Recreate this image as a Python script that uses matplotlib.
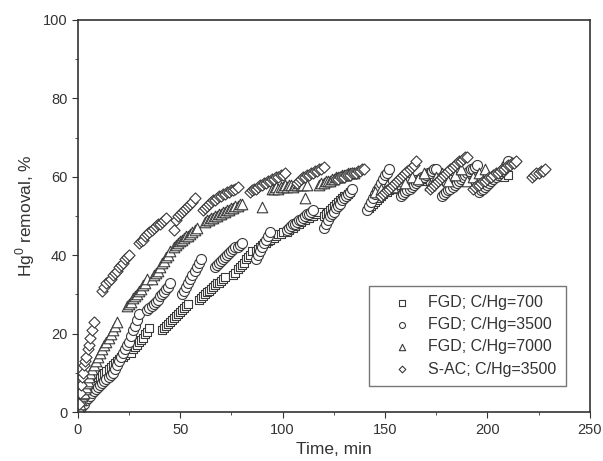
import matplotlib
matplotlib.use('Agg')
import matplotlib.pyplot as plt
from matplotlib.ticker import MultipleLocator

plt.rcParams['font.family'] = ['Liberation Sans', 'DejaVu Sans']

# FGD; C/Hg=700 (cuadrados)
t_700 = [0.5, 1, 1.5, 2, 3, 4, 5, 6, 7, 8, 9, 10,
         11, 12, 13, 14, 15, 16, 17, 18, 19, 20, 21, 22, 23,
         26, 27, 28, 29, 30, 31, 32, 33, 34, 35,
         41, 42, 43, 44, 45, 46, 47, 48, 49, 50, 51, 52, 53, 54,
         59, 60, 61, 62, 63, 64, 65, 66, 67, 68, 69, 70, 71, 72,
         76, 77, 78, 79, 80, 81, 82, 83, 84, 85,
         87, 88, 89, 90, 91, 92, 93, 94, 95, 96, 97, 98, 99, 100,
         102, 103, 104, 105, 106, 107, 108, 109, 110, 111, 112, 113, 114, 115, 116, 117, 118,
         120, 121, 122, 123, 124, 125, 126, 127, 128, 129, 130, 131, 132, 133,
         142, 143, 144, 145, 146, 147, 148, 149, 150, 151, 152, 153, 154, 155, 156,
         158, 160, 162, 164, 166, 168, 170, 172, 174, 176, 178, 180, 182, 184, 186, 188,
         190, 192, 194, 196, 198, 200, 202, 204, 206, 208, 210]
v_700 = [0.5, 1, 2, 2.5, 3, 4, 5, 5.5, 6.5, 7, 8, 9,
         9, 9.5, 10, 10.5, 11, 11.5, 12, 12.5, 13, 13.5, 14, 14, 14.5,
         15, 16, 16.5, 17, 18, 18.5, 19, 20, 20.5, 21.5,
         21, 21.5, 22, 22.5, 23, 23.5, 24, 24.5, 25, 25.5, 26, 26.5, 27, 27.5,
         28.5, 29, 29.5, 30, 30.5, 31, 31.5, 32, 32.5, 33, 33, 33.5, 34, 34.5,
         35, 35.5, 36.5, 37, 37.5, 38, 39, 39.5, 40, 41,
         41, 41.5, 42, 42.5, 43, 43, 43.5, 44, 44.5, 44.5, 45, 45.5, 45.5, 46,
         46, 46.5, 47, 47, 47.5, 48, 48, 48.5, 49, 49, 49.5, 49.5, 50, 50, 50.5, 50.5, 51,
         50, 50.5, 51, 51.5, 52, 52.5, 53, 53.5, 54, 54.5, 55, 55, 55.5, 56,
         52, 52.5, 53, 53.5, 54, 54.5, 55, 55.5, 56, 56, 56.5, 57, 57, 57.5, 58,
         58, 58.5, 59, 59, 59.5, 59, 59.5, 59, 59.5, 60, 59.5, 59, 59.5, 59, 59.5, 59,
         59.5, 59, 58.5, 59, 59.5, 60, 59.5, 60, 60.5, 60, 60.5]

# FGD; C/Hg=3500 (círculos)
t_3500 = [1, 2, 3, 4, 5, 6, 7, 8, 9, 10, 11, 12, 13, 14, 15, 16,
          17, 18, 19, 20, 21, 22, 23, 24, 25, 26, 27, 28, 29, 30,
          34, 35, 36, 37, 38, 39, 40, 41, 42, 43, 44, 45,
          51, 52, 53, 54, 55, 56, 57, 58, 59, 60,
          67, 68, 69, 70, 71, 72, 73, 74, 75, 76, 77, 78, 79, 80,
          87, 88, 89, 90, 91, 92, 93, 94,
          102, 103, 104, 105, 106, 107, 108, 109, 110, 111, 112, 113, 114, 115,
          120, 121, 122, 123, 124, 125, 126, 127, 128, 129, 130, 131, 132, 133, 134,
          141, 142, 143, 144, 145, 146, 147, 148, 149, 150, 151, 152,
          158, 159, 160, 161, 162, 163, 164, 165, 166, 167, 168, 169, 170, 171, 172, 173, 174, 175,
          178, 179, 180, 181, 182, 183, 184, 185, 186, 187, 188, 189, 190, 191, 192, 193, 194, 195,
          196, 197, 198, 199, 200, 201, 202, 203, 204, 205, 206, 207, 208, 209, 210]
v_3500 = [1, 1.5, 2, 3, 3.5, 4, 5, 5.5, 6, 6.5, 7, 7.5, 8, 8.5, 9, 9.5,
          10, 11, 12, 13, 14, 15, 16, 17, 18, 19.5, 21, 22, 23.5, 25,
          26, 26.5, 27, 27.5, 28, 28.5, 29.5, 30, 30.5, 31.5, 32, 33,
          30, 31, 32, 33, 34, 35, 36, 37, 38, 39,
          37, 37.5, 38, 38.5, 39, 39.5, 40, 40.5, 41, 41.5, 42, 42, 42.5, 43,
          39, 40, 41, 42, 43, 44, 45, 46,
          46.5, 47, 47.5, 48, 48, 48.5, 49, 49, 49.5, 50, 50.5, 50.5, 51, 51.5,
          47, 48, 49, 50, 50.5, 51, 52, 52.5, 53, 54, 54.5, 55, 55.5, 56, 57,
          51.5, 52.5, 53.5, 54.5, 55.5, 56.5, 57.5, 58.5, 59.5, 60.5, 61, 62,
          55, 55.5, 56, 56.5, 57, 57.5, 58, 58.5, 59, 59.5, 60, 60, 60.5, 61, 61, 61.5, 62, 62,
          55, 55.5, 56, 56.5, 57, 57.5, 58, 58.5, 59, 59.5, 60, 60.5, 61, 61.5, 62, 62, 62.5, 63,
          56, 56.5, 57, 57.5, 58, 58.5, 59, 59.5, 60, 60.5, 61, 61.5, 62, 63, 64]

# FGD; C/Hg=7000 (triángulos)
t_7000 = [0.5, 1, 1.5, 2, 2.5, 3, 3.5, 4, 4.5, 5, 5.5, 6,
          7, 8, 9, 10, 11, 12, 13, 14, 15, 16, 17, 18, 19,
          24, 25, 26, 27, 28, 29, 30, 31, 32, 33, 34,
          36, 37, 38, 39, 40, 41, 42, 43, 44, 45,
          47, 48, 49, 50, 51, 52, 53, 54, 55, 56, 57, 58,
          62, 63, 64, 65, 66, 67, 68, 69, 70, 71, 72, 73, 74, 75, 76, 77, 78, 79, 80, 90,
          95, 96, 97, 98, 99, 100, 101, 102, 103, 104, 105, 106, 107, 108, 109, 110, 112, 111,
          118, 119, 120, 121, 122, 123, 124, 125, 126, 127, 128, 129, 130, 131, 132, 133, 134, 135,
          145, 148, 151, 154, 157, 160, 163, 166, 169, 172, 175, 178, 181, 184, 187, 190, 193, 196, 199]
v_7000 = [1, 2, 3, 4, 4.5, 5, 6, 6.5, 7.5, 8, 9, 10,
          11, 12, 13, 14, 15, 16, 17, 18, 19, 20, 21, 22, 23,
          27, 27.5, 28, 29, 29.5, 30, 31, 31.5, 32.5, 33, 34,
          34, 35, 35.5, 36, 37, 38, 38.5, 39.5, 40, 41,
          42, 42.5, 43, 43.5, 44, 44.5, 45, 45, 45.5, 46, 46.5, 47,
          48.5, 49, 49, 49.5, 49.5, 50, 50, 50.5, 50.5, 51, 51, 51.5, 51.5, 52, 52, 52.5, 52.5, 53, 53, 52.3,
          57, 57, 57.5, 57, 57.5, 57.5, 58, 57.5, 58, 58, 57.5, 58, 58, 58.5, 58, 58, 58, 54.6,
          58, 58.5, 58.5, 59, 59, 59, 59.5, 59.5, 60, 60, 60, 60.5, 60.5, 60.5, 61, 61, 61, 61,
          56, 57, 58, 57.5, 59, 58.5, 60, 59.5, 61, 58, 60, 61, 59, 60.5, 62, 59, 60, 61, 62]

# S-AC; C/Hg=3500 (rombos)
t_sac = [0.5, 1, 1.5, 2, 2.5, 3, 3.5, 4, 5, 5.5, 6, 7, 8,
         12, 13, 14, 15, 16, 17, 18, 19, 20, 21, 22, 23, 24, 25,
         30, 31, 32, 33, 34, 35, 36, 37, 38, 39, 40, 41, 42, 43,
         47, 48, 49, 50, 51, 52, 53, 54, 55, 56, 57,
         61, 62, 63, 64, 65, 66, 67, 68, 69, 70, 71, 72, 73, 74, 75, 76, 77, 78,
         84, 85, 86, 87, 88, 89, 90, 91, 92, 93, 94, 95, 96, 97, 98, 99, 100, 101,
         107, 108, 109, 110, 111, 112, 113, 114, 115, 116, 117, 118, 119, 120,
         126, 127, 128, 129, 130, 131, 132, 133, 134, 135, 136, 137, 138, 139, 140,
         148, 149, 150, 151, 152, 153, 154, 155, 156, 157, 158, 159, 160, 161, 162, 163, 164, 165,
         172, 173, 174, 175, 176, 177, 178, 179, 180, 181, 182, 183, 184, 185, 186, 187, 188, 189, 190,
         193, 194, 195, 196, 197, 198, 199, 200, 201, 202, 203, 204, 205, 206, 207, 208, 209, 210, 211, 212, 213, 214,
         222, 223, 224, 225, 226, 227, 228]
v_sac = [2, 5, 7, 9, 10, 12, 13, 14, 16, 17, 19, 21, 23,
         31, 32, 33, 33.5, 34, 35, 35.5, 36, 37, 37.5, 38, 39, 39.5, 40,
         43, 43.5, 44, 45, 45.5, 46, 46.5, 47, 47.5, 48, 48, 48.5, 49, 49.5,
         46.4, 49, 50, 50.5, 51, 51.5, 52, 52.5, 53, 53.5, 54.5,
         51.5, 52, 52.5, 53, 53.5, 54, 54, 54.5, 55, 55, 55.5, 55.5, 56, 56, 56.5, 56.5, 57, 57.5,
         56, 56.5, 57, 57, 57.5, 58, 58, 58.5, 58.5, 59, 59, 59.5, 59.5, 60, 60, 60.5, 60.5, 61,
         58.5, 59, 59.5, 60, 60, 60.5, 60.5, 61, 61, 61.5, 61.5, 62, 62, 62.5,
         59.5, 59.5, 60, 60, 60, 60.5, 60.5, 60.5, 61, 61, 61, 61.5, 61.5, 62, 62,
         55, 55.5, 56, 56.5, 57, 57.5, 58, 58.5, 59, 59.5, 60, 60.5, 61, 61.5, 62, 62.5, 63, 64,
         57, 57.5, 58, 58.5, 59, 59.5, 60, 60.5, 61, 61.5, 62, 62.5, 63, 63.5, 64, 64, 64.5, 65, 65,
         57, 57.5, 58, 58, 58.5, 59, 59, 59.5, 60, 60, 60.5, 61, 61, 61.5, 62, 62, 62.5, 63, 63, 63.5, 63.5, 64,
         60, 60.5, 61, 61, 61.5, 61.5, 62]

series = [
    (t_700, v_700, 's', 40, 'FGD; C/Hg=700'),
    (t_3500, v_3500, 'o', 52, 'FGD; C/Hg=3500'),
    (t_7000, v_7000, '^', 58, 'FGD; C/Hg=7000'),
    (t_sac, v_sac, 'D', 32, 'S-AC; C/Hg=3500'),
]

fig, ax = plt.subplots(figsize=(6.03, 4.61), dpi=100)
fig.subplots_adjust(left=0.129, right=0.978, top=0.957, bottom=0.106)

for t, v, m, s, lab in series:
    ax.scatter(t, v, marker=m, s=s, facecolors='white', edgecolors='#3a3a3a',
               linewidths=0.8, label=lab)

ax.set_xlim(0, 250)
ax.set_ylim(0, 100)
ax.xaxis.set_major_locator(MultipleLocator(50))
ax.xaxis.set_minor_locator(MultipleLocator(25))
ax.yaxis.set_major_locator(MultipleLocator(20))
ax.yaxis.set_minor_locator(MultipleLocator(10))
ax.tick_params(which='both', direction='out', colors='#333333', labelsize=10.5)
ax.tick_params(which='major', length=4)
ax.tick_params(which='minor', length=2.5)
for sp in ax.spines.values():
    sp.set_color('#333333')
    sp.set_linewidth(1.2)

ax.set_xlabel('Time, min', fontsize=12.5, color='#333333')
ax.set_ylabel('Hg$^{\\mathregular{0}}$ removal, %', fontsize=12.5, color='#333333')

leg = ax.legend(loc='lower left', bbox_to_anchor=(0.568, 0.066), borderaxespad=0,
                fancybox=False, fontsize=11.5, labelspacing=0.45, borderpad=0.6,
                handlelength=3.0, handletextpad=0.1, markerscale=0.6,
                edgecolor='#555555')
leg.get_frame().set_linewidth(1.0)
for txt in leg.get_texts():
    txt.set_color('#333333')

plt.savefig('out.png', dpi=100)
